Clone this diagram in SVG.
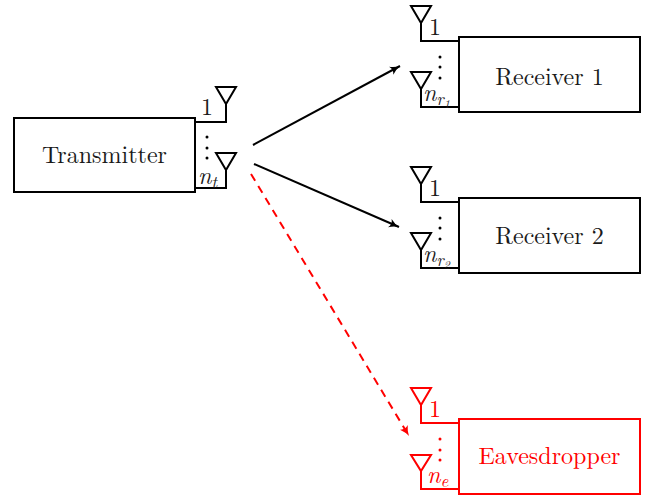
<svg xmlns="http://www.w3.org/2000/svg" width="654" height="496" viewBox="0 0 654 496">
<style>
.b{fill:none;stroke:#000;stroke-width:2}
.r{fill:none;stroke:#f00;stroke-width:2}
text{font-family:"Latin Modern Roman","Liberation Serif","DejaVu Serif",serif;font-size:24px;fill:#1a1a1a}
.i{font-style:italic}
.s{font-size:17px}
.red{fill:#f00}
.c{text-anchor:middle}
.dk{fill:#000}
.dr{fill:#f00}
</style>
<defs>
<marker id="ab" markerUnits="userSpaceOnUse" markerWidth="14" markerHeight="14" refX="11" refY="7" orient="auto"><path d="M1 2.5Q6 6 11 7Q6 8 1 11.500Q4 7 1 2.500Z" fill="#000"/></marker>
<marker id="ar" markerUnits="userSpaceOnUse" markerWidth="14" markerHeight="14" refX="11" refY="7" orient="auto"><path d="M1 2.5Q6 6 11 7Q6 8 1 11.500Q4 7 1 2.500Z" fill="#f00"/></marker>
</defs>
<g id="connectors">
<path class="b" d="M253 145L400 66" marker-end="url(#ab)"/>
<path class="b" d="M254 164L399 227" marker-end="url(#ab)"/>
<path class="r" d="M251 174L409 436" stroke-dasharray="8 6" marker-end="url(#ar)"/>
</g>
<g id="transmitter">
<rect class="b" x="14" y="118" width="181" height="74"/>
<text class="c" x="104.500" y="163">Transmitter</text>
<path class="b" d="M195 122H226V104M216 87H236L226 104ZM195 188H226V170M216 153H236L226 170Z"/>
<text x="201" y="115">1</text>
<text class="i" x="198" y="184">n<tspan class="s" dy="4">t</tspan></text>
<circle class="dk" cx="207" cy="137" r="1.500"/><circle class="dk" cx="207" cy="148" r="1.500"/><circle class="dk" cx="207" cy="158" r="1.500"/>
</g>
<g id="receiver1">
<rect class="b" x="459" y="37" width="181" height="75"/>
<text class="c" x="549.500" y="85">Receiver 1</text>
<path class="b" d="M459 41H421V23M411 6H431L421 23ZM459 107H421V89M411 72H431L421 89Z"/>
<text x="429" y="35">1</text>
<text class="i" x="423" y="101">n<tspan class="s" dy="4">r<tspan font-size="12" dy="3">1</tspan></tspan></text>
<circle class="dk" cx="440" cy="57" r="1.500"/><circle class="dk" cx="440" cy="67" r="1.500"/><circle class="dk" cx="440" cy="78" r="1.500"/>
</g>
<g id="receiver2">
<rect class="b" x="459" y="198" width="181" height="75"/>
<text class="c" x="549.500" y="244">Receiver 2</text>
<path class="b" d="M459 202H421V184M411 167H431L421 184ZM459 268H421V250M411 233H431L421 250Z"/>
<text x="429" y="196">1</text>
<text class="i" x="423" y="262">n<tspan class="s" dy="4">r<tspan font-size="12" dy="3">2</tspan></tspan></text>
<circle class="dk" cx="440" cy="218" r="1.500"/><circle class="dk" cx="440" cy="228" r="1.500"/><circle class="dk" cx="440" cy="239" r="1.500"/>
</g>
<g id="eavesdropper">
<rect class="r" x="459" y="419" width="181" height="75"/>
<text class="c red" x="549.500" y="464">Eavesdropper</text>
<path class="r" d="M459 423H421V405M411 388H431L421 405ZM459 489H421V471M411 455H431L421 471Z"/>
<text class="red" x="429" y="417">1</text>
<text class="i red" x="427" y="483">n<tspan class="s" dy="4">e</tspan></text>
<circle class="dr" cx="440" cy="439" r="1.500"/><circle class="dr" cx="440" cy="450" r="1.500"/><circle class="dr" cx="440" cy="460" r="1.500"/>
</g>
</svg>
